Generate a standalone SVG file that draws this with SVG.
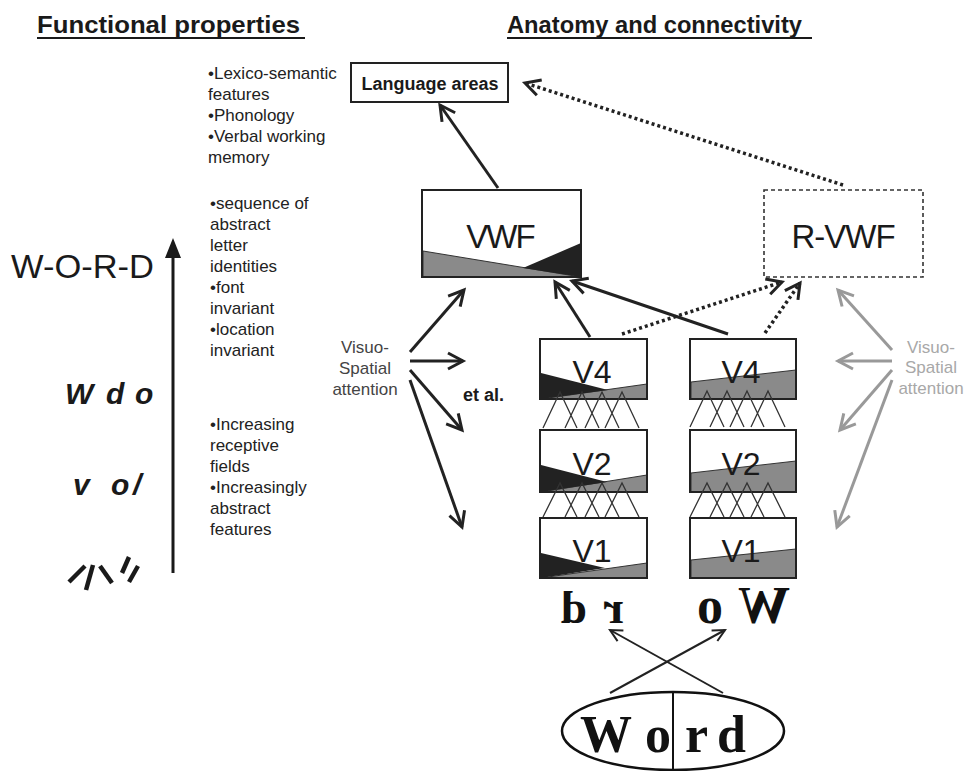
<svg xmlns="http://www.w3.org/2000/svg" width="967" height="771" viewBox="0 0 967 771">
<style>
text{font-family:"Liberation Sans",Arial,sans-serif;fill:#1a1a1a}
.hdr{font-size:24px;font-weight:bold}
.ul{stroke:#1a1a1a;stroke-width:2}
.bul{font-size:17px;fill:#222}
.big{font-size:33px}
.vlab{font-size:32px;text-anchor:middle}
.att{font-size:17px;text-anchor:middle;fill:#444}
.attg{font-size:17px;text-anchor:middle;fill:#a8a8a8}
.box{fill:#fff;stroke:#222;stroke-width:2}
.gray{fill:#8a8a8a;stroke:#333;stroke-width:1}
.blk{fill:#222}
.serif{font-family:"Liberation Serif","Times New Roman",serif;font-weight:bold;font-size:52px;fill:#111}
.mir{font-family:"Liberation Serif","Times New Roman",serif;font-weight:bold;font-size:47px;fill:#111}
.arr{stroke:#222;stroke-width:3;fill:none;marker-end:url(#ah)}
.arrg{stroke:#999;stroke-width:3;fill:none;marker-end:url(#ahg)}
.dot{stroke:#222;stroke-width:3.5;fill:none;stroke-dasharray:3 3;marker-end:url(#ah)}
.thin{stroke:#222;stroke-width:2;fill:none;marker-end:url(#ahs)}
.x{stroke:#333;stroke-width:1.3;fill:none}
</style>
<defs>
<marker id="ah" markerUnits="userSpaceOnUse" markerWidth="24" markerHeight="24" refX="20" refY="12" orient="auto"><path d="M5,4 L20,12 L5,20" fill="none" stroke="#222" stroke-width="3"/></marker>
<marker id="ahg" markerUnits="userSpaceOnUse" markerWidth="24" markerHeight="24" refX="20" refY="12" orient="auto"><path d="M5,4 L20,12 L5,20" fill="none" stroke="#999" stroke-width="3"/></marker>
<marker id="ahs" markerUnits="userSpaceOnUse" markerWidth="20" markerHeight="20" refX="17" refY="10" orient="auto"><path d="M5,4 L17,10 L5,16" fill="none" stroke="#222" stroke-width="2"/></marker>
</defs>
<rect width="967" height="771" fill="#fff"/>

<!-- headers -->
<g id="headers">
<text class="hdr" x="37" y="33" textLength="263" lengthAdjust="spacingAndGlyphs">Functional properties</text>
<line class="ul" x1="37" y1="38" x2="305" y2="38"/>
<text class="hdr" x="507" y="33" textLength="295" lengthAdjust="spacingAndGlyphs">Anatomy and connectivity</text>
<line class="ul" x1="507" y1="38" x2="812" y2="38"/>
</g>

<!-- left column: functional properties -->
<g id="word-levels">
<text class="big" x="11" y="278" textLength="143" lengthAdjust="spacingAndGlyphs">W-O-R-D</text>
<text x="65 106 135" y="404" style="font-size:30px;font-weight:bold;font-style:italic">Wdo</text>
<text x="73 111 133" y="495" style="font-size:30px;font-weight:bold;font-style:italic">vo/</text>
<g stroke="#1a1a1a" stroke-width="4.5">
<line x1="69" y1="582" x2="85" y2="566"/>
<line x1="86" y1="590" x2="93" y2="565"/>
<line x1="100" y1="566" x2="112" y2="583"/>
<line x1="122" y1="573" x2="129" y2="557"/>
<line x1="129" y1="582" x2="138" y2="566"/>
</g>
<line x1="173" y1="573" x2="173" y2="255" stroke="#1a1a1a" stroke-width="3"/>
<polygon points="173,238 165,258 181,258" fill="#1a1a1a"/>
</g>

<g id="feature-lists">
<text class="bul"><tspan x="208" y="79">•Lexico-semantic</tspan><tspan x="208" y="100">features</tspan><tspan x="208" y="121">•Phonology</tspan><tspan x="208" y="142">•Verbal working</tspan><tspan x="208" y="163">memory</tspan></text>
<text class="bul"><tspan x="210" y="209">•sequence of</tspan><tspan x="210" y="230">abstract</tspan><tspan x="210" y="251">letter</tspan><tspan x="210" y="272">identities</tspan><tspan x="210" y="293">•font</tspan><tspan x="210" y="314">invariant</tspan><tspan x="210" y="335">•location</tspan><tspan x="210" y="356">invariant</tspan></text>
<text class="bul"><tspan x="210" y="430">•Increasing</tspan><tspan x="210" y="451">receptive</tspan><tspan x="210" y="472">fields</tspan><tspan x="210" y="493">•Increasingly</tspan><tspan x="210" y="514">abstract</tspan><tspan x="210" y="535">features</tspan></text>
</g>

<!-- nodes -->
<g id="language-areas">
<rect class="box" x="351" y="63" width="157" height="39"/>
<text x="430" y="90" text-anchor="middle" style="font-size:18px;font-weight:bold">Language areas</text>
</g>

<g id="vwf">
<rect class="box" x="422" y="190" width="159" height="87"/>
<polygon class="gray" points="423,251 581,277 423,277"/>
<polygon class="blk" points="523,268 581,243 581,277"/>
<text class="big" x="500" y="248" text-anchor="middle" letter-spacing="-2">VWF</text>
<rect x="422" y="190" width="159" height="87" fill="none" stroke="#222" stroke-width="2"/>
</g>

<g id="r-vwf">
<rect x="764" y="190" width="159" height="87" fill="#fff" stroke="#333" stroke-width="1.6" stroke-dasharray="4 3"/>
<text class="big" x="843" y="248" text-anchor="middle" letter-spacing="-1">R-VWF</text>
</g>

<g id="v4-left">
<rect class="box" x="540" y="339" width="107" height="60"/>
<polygon class="gray" points="541,399 647,384 647,399"/>
<polygon class="blk" points="541,373 608,390 541,399"/>
<text class="vlab" x="592" y="383">V4</text>
<rect x="540" y="339" width="107" height="60" fill="none" stroke="#222" stroke-width="2"/>
</g>
<g id="v2-left">
<rect class="box" x="540" y="430" width="107" height="62"/>
<polygon class="gray" points="541,492 647,475 647,492"/>
<polygon class="blk" points="541,465 607,482 541,492"/>
<text class="vlab" x="592" y="475">V2</text>
<rect x="540" y="430" width="107" height="62" fill="none" stroke="#222" stroke-width="2"/>
</g>
<g id="v1-left">
<rect class="box" x="540" y="518" width="107" height="60"/>
<polygon class="gray" points="541,578 647,563 647,578"/>
<polygon class="blk" points="541,553 605,568 541,578"/>
<text class="vlab" x="592" y="562">V1</text>
<rect x="540" y="518" width="107" height="60" fill="none" stroke="#222" stroke-width="2"/>
</g>

<g id="v4-right">
<rect class="box" x="690" y="339" width="106" height="60"/>
<polygon class="gray" points="691,382 796,370 796,399 691,399"/>
<text class="vlab" x="741" y="383">V4</text>
<rect x="690" y="339" width="106" height="60" fill="none" stroke="#222" stroke-width="2"/>
</g>
<g id="v2-right">
<rect class="box" x="690" y="430" width="106" height="62"/>
<polygon class="gray" points="691,473 796,461 796,492 691,492"/>
<text class="vlab" x="741" y="475">V2</text>
<rect x="690" y="430" width="106" height="62" fill="none" stroke="#222" stroke-width="2"/>
</g>
<g id="v1-right">
<rect class="box" x="690" y="518" width="106" height="60"/>
<polygon class="gray" points="691,560 796,549 796,578 691,578"/>
<text class="vlab" x="741" y="562">V1</text>
<rect x="690" y="518" width="106" height="60" fill="none" stroke="#222" stroke-width="2"/>
</g>

<!-- receptive field cross-hatching -->
<g id="receptive-fields" class="x">
<path d="M543,428 L560,392 L577,428 M565,428 L582,392 L599,428 M585,428 L602,392 L619,428 M605,428 L622,392 L639,428"/>
<path d="M543,517 L560,483 L577,517 M565,517 L582,483 L599,517 M585,517 L602,483 L619,517 M605,517 L622,483 L639,517"/>
<path d="M690,427 L707,391 L724,427 M710,427 L727,391 L744,427 M730,427 L747,391 L764,427 M751,427 L768,391 L785,427"/>
<path d="M690,517 L707,483 L724,517 M710,517 L727,483 L744,517 M730,517 L747,483 L764,517 M751,517 L768,483 L785,517"/>
</g>

<g id="attention-left">
<text class="att"><tspan x="365" y="353">Visuo-</tspan><tspan x="365" y="374">Spatial</tspan><tspan x="365" y="395">attention</tspan></text>
</g>
<g id="attention-right">
<text class="attg"><tspan x="931" y="353">Visuo-</tspan><tspan x="931" y="373">Spatial</tspan><tspan x="931" y="394">attention</tspan></text>
</g>
<g id="et-al">
<text x="463" y="401" style="font-size:18px;font-weight:bold">et al.</text>
</g>

<g id="letters">
<text class="mir" x="564 601" y="623" transform="matrix(-1 0 0 1 1188 0)">rd</text>
<text class="serif" x="703 770" y="623" transform="matrix(-1 0 0 1 1493 0)">Wo</text>
</g>

<g id="word-stimulus">
<ellipse cx="673" cy="731" rx="111" ry="39" fill="#fff" stroke="#111" stroke-width="2.5"/>
<line x1="673" y1="692" x2="673" y2="771" stroke="#111" stroke-width="2"/>
<text class="serif" x="580 645 685 717" y="752">Word</text>
</g>

<!-- connectors -->
<g id="connectors">
<line class="arr" x1="498" y1="188" x2="440" y2="105"/>
<line class="dot" x1="843" y1="185" x2="525" y2="83"/>
<line class="arr" x1="590" y1="337" x2="555" y2="282"/>
<line class="arr" x1="728" y1="334" x2="572" y2="281"/>
<line class="dot" x1="622" y1="334" x2="782" y2="282"/>
<line class="dot" x1="765" y1="333" x2="800" y2="283"/>
<line class="arr" x1="410" y1="352" x2="464" y2="290"/>
<line class="arr" x1="410" y1="361" x2="463" y2="361"/>
<line class="arr" x1="410" y1="370" x2="462" y2="430"/>
<line class="arr" x1="410" y1="380" x2="462" y2="527"/>
<line class="arrg" x1="892" y1="350" x2="838" y2="290"/>
<line class="arrg" x1="892" y1="361" x2="838" y2="361"/>
<line class="arrg" x1="892" y1="370" x2="840" y2="430"/>
<line class="arrg" x1="892" y1="380" x2="837" y2="527"/>
<line class="thin" x1="610" y1="693" x2="725" y2="630"/>
<line class="thin" x1="723" y1="693" x2="610" y2="630"/>
</g>
</svg>
